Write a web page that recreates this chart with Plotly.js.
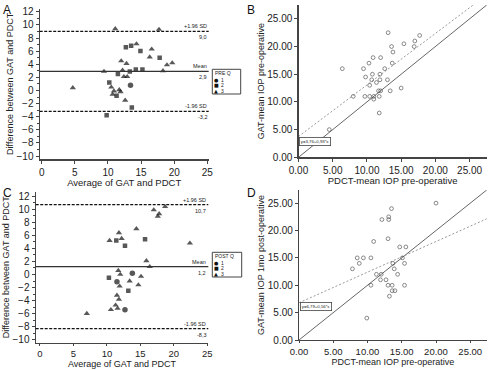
<!DOCTYPE html>
<html><head><meta charset="utf-8">
<script src="https://cdn.plot.ly/plotly-3.0.1.min.js"></script>
<style>html,body{margin:0;padding:0;background:#fff;}#chart{width:491px;height:370px;}</style>
</head><body><div id="chart"></div>
<script>
// ---------- Panel A: Bland-Altman, pre-operative ----------
const preAvg  = [4.7, 11.1, 17.7, 9.4, 12.7, 13.5, 14.3, 14.9, 16.6, 16.3, 17.8, 18.9, 19.7, 18.3, 12.0, 12.8, 12.2, 13.3, 14.2, 15.2, 11.5, 12.4, 12.9, 10.2, 10.5, 10.9, 10.7, 11.3, 11.7, 11.9, 13.4, 12.6, 13.6, 9.8];
const preDiff = [0.4, 9.4, 9.3, 2.9, 6.6, 6.8, 7.1, 6.0, 6.3, 5.1, 5.0, 3.9, 4.2, 3.0, 4.5, 4.1, 3.1, 2.9, 3.2, 3.2, 2.5, 2.1, 2.1, 1.2, 0.5, -0.1, -0.6, -0.8, 0.1, -0.2, 0.8, -1.5, -2.6, -3.8];
const preGroup = [3, 3, 3, 3, 2, 2, 3, 2, 3, 3, 2, 3, 3, 3, 3, 3, 3, 2, 2, 2, 2, 3, 3, 2, 3, 3, 3, 2, 3, 3, 1, 3, 2, 2];
const preLimits = [9.0, 2.9, -3.2];          // +1.96 SD, mean, -1.96 SD
const preLimitLabels = ["9,0", "2,9", "-3,2"];

// ---------- Panel B: scatter, pre-operative ----------
const pdctPre = [4.5, 6.4, 13.1, 8.0, 9.5, 10.3, 10.9, 12.0, 13.6, 13.8, 15.4, 17.0, 17.7, 16.9, 9.8, 10.8, 10.7, 11.9, 12.6, 13.7, 10.4, 11.4, 11.9, 9.7, 10.4, 11.0, 11.0, 11.8, 11.7, 12.0, 13.0, 13.4, 15.0, 11.8];
const gatPre  = [5.0, 16.0, 22.5, 11.0, 16.0, 17.0, 18.0, 18.0, 20.0, 19.0, 20.5, 21.0, 22.0, 20.0, 14.5, 15.0, 14.0, 15.0, 16.0, 17.0, 13.0, 13.5, 14.0, 11.0, 11.0, 11.0, 10.5, 11.0, 12.0, 12.0, 14.0, 12.0, 12.5, 8.0];
const fitPre = [3.76, 0.93];                 // intercept, slope
const fitPreLabel = "y=3,76+0,93*x";

// ---------- Panel C: Bland-Altman, post-operative ----------
const postAvg  = [7.0, 10.4, 11.4, 11.8, 12.2, 12.7, 14.4, 15.7, 17.0, 17.6, 17.8, 18.7, 22.4, 15.9, 16.4, 11.7, 12.0, 10.3, 11.5, 11.9, 13.8, 15.1, 13.4, 14.7, 13.2, 11.5, 11.8, 11.3, 11.6, 10.6, 12.7];
const postDiff = [-6.0, 5.2, 5.2, 6.4, 5.5, 4.4, 7.0, 5.4, 9.9, 8.9, 9.3, 10.4, 4.8, 2.1, 1.2, 0.6, 0.0, -0.5, -1.1, -1.8, 0.2, -0.3, -1.0, -1.6, -2.5, -3.2, -3.8, -4.7, -5.2, -5.4, -5.4];
const postGroup = [3, 3, 2, 3, 3, 2, 3, 2, 3, 3, 3, 3, 3, 3, 3, 3, 3, 2, 1, 3, 1, 3, 3, 3, 2, 3, 3, 3, 3, 3, 1];
const postLimits = [10.7, 1.2, -8.3];
const postLimitLabels = ["10,7", "1,2", "-8,3"];

// ---------- Panel D: scatter, post-operative ----------
const pdctPost = [20.0, 9.9, 7.8, 8.5, 8.8, 9.4, 10.5, 10.9, 11.3, 12.0, 11.9, 12.1, 12.7, 13.0, 13.1, 13.1, 13.0, 13.5, 13.2, 13.6, 13.6, 14.0, 13.7, 13.9, 14.4, 14.7, 15.1, 15.4, 15.4, 15.6, 10.5];
const gatPost  = [25.0, 4.0, 13.0, 15.0, 14.0, 15.0, 15.0, 18.0, 12.0, 12.0, 11.0, 22.0, 11.0, 10.0, 22.5, 22.0, 18.5, 24.0, 8.0, 10.0, 9.0, 9.0, 14.0, 13.0, 12.0, 17.0, 15.0, 14.0, 10.0, 17.0, 10.0];
const fitPost = [6.79, 0.56];
const fitPostLabel = "y=6,79+0,56*x";

const groupNames = ["1", "2", "3"];
const limitNames = ["+1.96 SD", "Mean", "-1.96 SD"];

// ---------- helpers ----------
const W = 491, H = 370;
const px = v => v / W;
const py = v => 1 - v / H;
const FAM = "Liberation Sans, Arial, sans-serif";
const symbolOf = g => ({1: "circle", 2: "square", 3: "triangle-up"})[g];

const baseAxis = {
  showline: true, linecolor: "#444", linewidth: 1.2, ticks: "outside", ticklen: 3,
  tickcolor: "#444", tickwidth: 1, showgrid: false, zeroline: false,
  tickfont: {family: FAM, size: 10, color: "#222"}, automargin: false
};
const titleFont = {family: FAM, size: 9.5, color: "#222"};
const yTitleFont = {family: FAM, size: 9, color: "#222"};

const BX = [0, 27.5], BY = [0, 27.5];
const DX = [0, 27.4], DY = [0, 27.4];

const traces = [];
function baTrace(x, y, g, xa, ya) {
  return {x, y, xaxis: xa, yaxis: ya, type: "scatter", mode: "markers", showlegend: false,
    marker: {symbol: g.map(symbolOf), color: "#111", size: g.map(v => v === 2 ? 4.5 : 5.5), line: {width: 0}}, hoverinfo: "skip"};
}
traces.push(baTrace(preAvg, preDiff, preGroup, "x", "y"));
traces.push(baTrace(postAvg, postDiff, postGroup, "x3", "y3"));

function scatterTrace(x, y, xa, ya) {
  return {x, y, xaxis: xa, yaxis: ya, type: "scatter", mode: "markers", showlegend: false,
    marker: {symbol: "circle-open", color: "rgba(90,90,90,0.7)", size: 3.8, line: {width: 1}}, hoverinfo: "skip"};
}
function lineTraces(fit, xr, xa, ya) {
  return [
    {x: xr, y: xr, xaxis: xa, yaxis: ya, type: "scatter", mode: "lines", showlegend: false,
     line: {color: "#666", width: 1}, hoverinfo: "skip"},
    {x: xr, y: xr.map(v => fit[0] + fit[1] * v), xaxis: xa, yaxis: ya, type: "scatter", mode: "lines", showlegend: false,
     line: {color: "#999", width: 1, dash: "2px,2px"}, hoverinfo: "skip"}
  ];
}
traces.push(...lineTraces(fitPre, [0, BX[1] + 3], "x2", "y2"));
traces.push(scatterTrace(pdctPre, gatPre, "x2", "y2"));
traces.push(...lineTraces(fitPost, [0, DX[1] + 3], "x4", "y4"));
traces.push(scatterTrace(pdctPost, gatPost, "x4", "y4"));

const shapes = [], annotations = [];
function baDecor(lims, labels, xa, ya, legendBox, legendTitle) {
  lims.forEach((v, i) => {
    shapes.push({type: "line", xref: xa + " domain", yref: ya, x0: 0, x1: 1, y0: v, y1: v,
      line: {color: i === 1 ? "#333" : "#111", width: 1.3, dash: i === 1 ? "solid" : "3px,1.5px"}});
    annotations.push({xref: xa + " domain", yref: ya, x: 0.995, y: v, xanchor: "right", yanchor: "bottom",
      text: limitNames[i], showarrow: false, font: {family: FAM, size: 5.5, color: "#222"}, borderpad: 0, yshift: 1});
    annotations.push({xref: xa + " domain", yref: ya, x: 0.995, y: v, xanchor: "right", yanchor: "top",
      text: labels[i], showarrow: false, font: {family: FAM, size: 5.5, color: "#222"}, borderpad: 0, yshift: -2});
  });
  const [x0, y0, x1, y1] = legendBox;
  shapes.push({type: "rect", xref: "paper", yref: "paper", x0: px(x0), x1: px(x1), y0: py(y0), y1: py(y1),
    line: {color: "#444", width: 1}, fillcolor: "rgba(0,0,0,0)"});
  annotations.push({xref: "paper", yref: "paper", x: px(x0 + 2), y: py(y0 + 4), xanchor: "left", yanchor: "middle",
    text: legendTitle, showarrow: false, font: {family: FAM, size: 5, color: "#222"}, borderpad: 0});
  const syms = ["●", "■", "▲"];
  groupNames.forEach((g, i) => {
    const yy = y0 + 10.5 + i * 5.5;
    annotations.push({xref: "paper", yref: "paper", x: px(x0 + 4), y: py(yy), xanchor: "center", yanchor: "middle",
      text: syms[i], showarrow: false, font: {family: "DejaVu Sans", size: 5, color: "#111"}, borderpad: 0});
    annotations.push({xref: "paper", yref: "paper", x: px(x0 + 8), y: py(yy), xanchor: "left", yanchor: "middle",
      text: g, showarrow: false, font: {family: FAM, size: 5, color: "#222"}, borderpad: 0});
  });
}
baDecor(preLimits, preLimitLabels, "x", "y", [212.3, 69.3, 240.7, 94], "PRE Q");
baDecor(postLimits, postLimitLabels, "x3", "y3", [212.3, 252.3, 241.7, 277], "POST Q");

function fitBox(text, xa, ya, yv) {
  annotations.push({xref: xa + " domain", yref: ya, x: 0.003, y: yv, xanchor: "left", yanchor: "middle",
    text, showarrow: false, font: {family: FAM, size: 4.3, color: "#222"}, bordercolor: "#444", borderwidth: 0.8,
    borderpad: 1, bgcolor: "#fff"});
}
fitBox(fitPreLabel, "x2", "y2", 2.9);
fitBox(fitPostLabel, "x4", "y4", 6.1);

[["A", 2, 2], ["B", 246, 2], ["C", 2, 185], ["D", 246, 185]].forEach(([t, x, y]) => {
  annotations.push({xref: "paper", yref: "paper", x: px(x), y: py(y), xanchor: "left", yanchor: "top",
    text: t, showarrow: false, font: {family: FAM, size: 12, color: "#111"}, borderpad: 0});
});

const cTick = {family: FAM, size: 9.5, color: "#222"};
const cTitle = {family: FAM, size: 9, color: "#222"};

const layout = {
  width: W, height: H, margin: {l: 0, r: 0, t: 0, b: 0}, paper_bgcolor: "#fff", plot_bgcolor: "#fff",
  showlegend: false,
  xaxis: Object.assign({}, baseAxis, {domain: [px(39.7), px(208.7)], range: [-0.3, 25.2], dtick: 5, tick0: 0, anchor: "y",
    title: {text: "Average of GAT and PDCT", font: titleFont, standoff: 1}}),
  yaxis: Object.assign({}, baseAxis, {domain: [py(159.3), py(8.5)], range: [-10.5, 12.5], dtick: 2, tick0: 0, anchor: "x",
    minor: {dtick: 1, ticklen: 2, tickcolor: "#444", ticks: "outside"},
    title: {text: "Difference between GAT and PDCT", font: yTitleFont, standoff: 1}}),
  xaxis2: Object.assign({}, baseAxis, {domain: [px(298.5), px(486.7)], range: BX, dtick: 5, tick0: 0, anchor: "y2", tickformat: ".2f",
    title: {text: "PDCT-mean IOP pre-operative", font: titleFont, standoff: 1}}),
  yaxis2: Object.assign({}, baseAxis, {domain: [py(157.3), py(5)], range: BY, dtick: 5, tick0: 0, anchor: "x2", tickformat: ".2f",
    title: {text: "GAT-mean IOP pre-operative", font: yTitleFont, standoff: 1}}),
  xaxis3: Object.assign({}, baseAxis, {domain: [px(35.7), px(208.3)], range: [-0.64, 25.15], dtick: 5, tick0: 0, anchor: "y3",
    ticklen: 2, tickfont: cTick,
    title: {text: "Average of GAT and PDCT", font: cTitle, standoff: 2}}),
  yaxis3: Object.assign({}, baseAxis, {domain: [py(342.5), py(192)], range: [-10.43, 12.65], dtick: 2, tick0: 0, anchor: "x3",
    minor: {dtick: 1, ticklen: 2, tickcolor: "#444", ticks: "outside"},
    title: {text: "Difference between GAT and PDCT", font: yTitleFont, standoff: 1}}),
  xaxis4: Object.assign({}, baseAxis, {domain: [px(299), px(486.7)], range: DX, dtick: 5, tick0: 0, anchor: "y4", tickformat: ".2f",
    ticklen: 2, tickfont: cTick,
    title: {text: "PDCT-mean IOP pre-operative", font: cTitle, standoff: 2}}),
  yaxis4: Object.assign({}, baseAxis, {domain: [py(340), py(190)], range: DY, dtick: 5, tick0: 0, anchor: "x4", tickformat: ".2f",
    title: {text: "GAT-mean IOP 1mo post-operative", font: yTitleFont, standoff: 1}}),
  shapes, annotations
};
Plotly.newPlot("chart", traces, layout, {staticPlot: true, displayModeBar: false});
</script></body></html>
